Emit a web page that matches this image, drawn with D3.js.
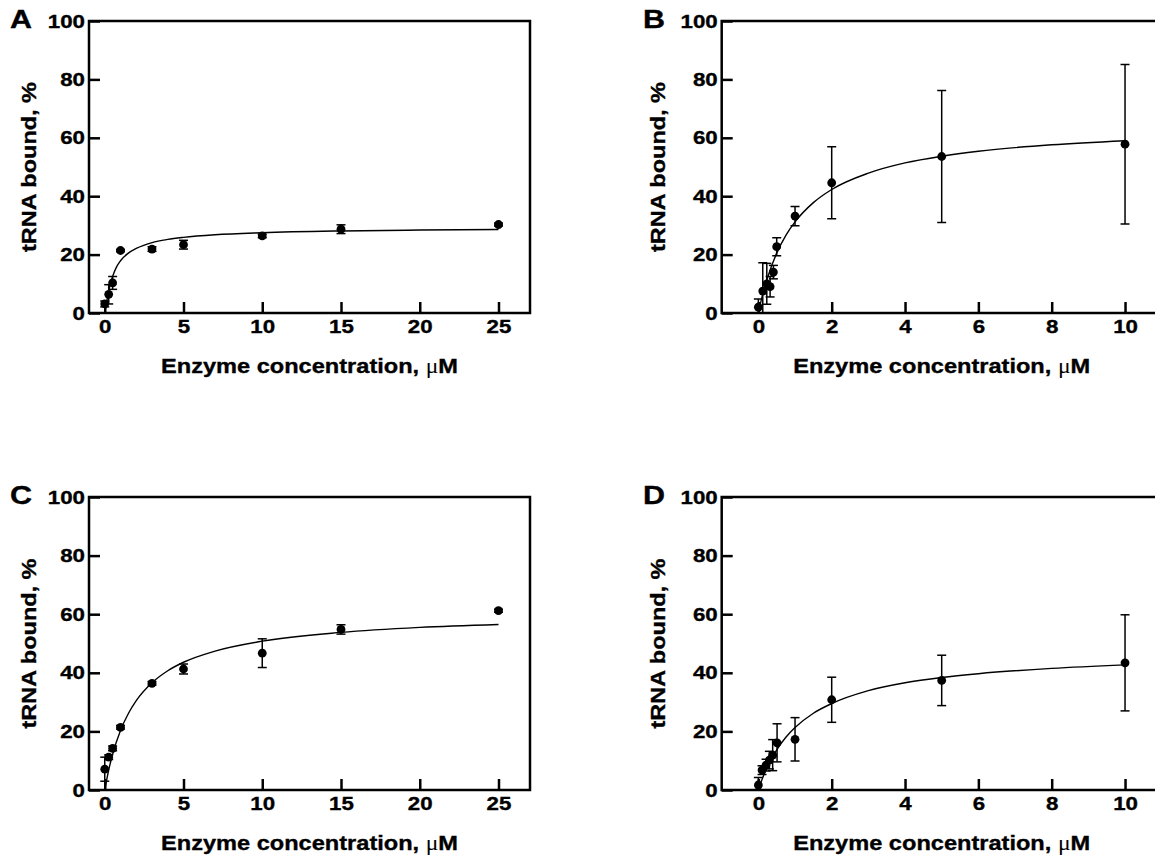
<!DOCTYPE html>
<html>
<head>
<meta charset="utf-8">
<script src="https://cdn.jsdelivr.net/npm/d3@7"></script>
<style>
  body { margin: 0; background: #fff; }
  svg { display: block; }
  text { font-family: "Liberation Sans", Arial, sans-serif; font-weight: bold; fill: #000; stroke: #000; stroke-width: 0.35px; }
</style>
</head>
<body>
<div id="chart"></div>
<script>
// panel A
const xA = [0, 0.25, 0.5, 1, 3, 5, 10, 15, 25];
const yA = [3.1, 6.4, 10.3, 21.4, 21.9, 23.4, 26.4, 28.7, 30.3];
const errA = [1.0, 3.3, 2.2, 0.4, 0.8, 1.5, 0.6, 1.5, 0.5];
const fitXA = [0, 0.25, 0.5, 0.75, 1, 1.5, 2, 3, 4, 5, 7, 10, 15, 20, 25];
const fitYA = [0, 7.5, 12.5, 15.8, 17.9, 20.5, 22.1, 24.1, 25.2, 25.9, 26.8, 27.5, 28.1, 28.4, 28.6];

// panel B
const xB = [0, 0.12, 0.23, 0.32, 0.41, 0.5, 1, 2, 5, 10];
const yB = [2, 7.5, 10, 9, 14, 22.7, 33.2, 44.6, 53.6, 57.8];
const errB = [2.8, 9.7, 7, 3.5, 2.3, 3.1, 3.3, 12.3, 22.6, 27.3];
const fitXB = [0, 0.1, 0.25, 0.5, 0.75, 1, 1.5, 2, 3, 4, 5, 6, 8, 10];
const fitYB = [0, 5.5, 12.1, 20.5, 26.6, 31.2, 37.8, 42.3, 47.9, 51.4, 53.7, 55.4, 57.6, 59.0];

// panel C
const xC = [0, 0.25, 0.5, 1, 3, 5, 10, 15, 25];
const yC = [7.1, 11.2, 14.2, 21.4, 36.4, 41.3, 46.7, 54.8, 61.2];
const errC = [4.1, 0.8, 0.8, 0.6, 0.6, 1.7, 4.9, 1.6, 0.5];
const fitXC = [0, 0.25, 0.5, 1, 1.5, 2, 3, 4, 5, 7, 10, 15, 20, 25];
const fitYC = [0, 6.8, 12.2, 20.3, 26.1, 30.5, 36.6, 40.7, 43.6, 47.4, 50.8, 53.8, 55.5, 56.5];

// panel D
const xD = [0, 0.1, 0.21, 0.3, 0.39, 0.51, 1, 2, 5, 10];
const yD = [1.7, 6.8, 8.5, 10.2, 11.9, 16.1, 17.3, 30.8, 37.4, 43.4];
const errD = [2.6, 1.5, 2, 3, 5.3, 6.5, 7.4, 7.7, 8.6, 16.4];
const fitXD = [0, 0.1, 0.25, 0.5, 0.75, 1, 1.5, 2, 3, 4, 5, 6, 8, 10];
const fitYD = [0, 3.6, 8, 13.7, 18, 21.3, 26.2, 29.5, 33.9, 36.6, 38.4, 39.7, 41.5, 42.7];

const yTicks = [0, 20, 40, 60, 80, 100];
const xTicksWide = [0, 5, 10, 15, 20, 25];
const xTicksNarrow = [0, 2, 4, 6, 8, 10];
const xTitle = 'Enzyme concentration, ';
const yTitle = 'tRNA bound, %';

const svg = d3.select('#chart')
  .append('svg')
  .attr('width', 1155)
  .attr('height', 858);

function drawPanel(p) {
  const x = d3.scaleLinear().domain(p.xDomain).range([p.left, p.right]);
  const y = d3.scaleLinear().domain([0, 100]).range([p.bottom, p.top]);
  const g = svg.append('g');

  const clipId = 'clip-' + p.label;
  svg.append('clipPath').attr('id', clipId)
    .append('rect')
    .attr('x', p.left).attr('y', p.top)
    .attr('width', p.right - p.left).attr('height', p.bottom - p.top);

  // ticks point into the plot, labels outside
  const xAxis = d3.axisBottom(x).tickValues(p.xTicks).tickSizeInner(-11).tickSizeOuter(0).tickPadding(7);
  const yAxis = d3.axisLeft(y).tickValues(yTicks).tickSizeInner(-11).tickSizeOuter(0).tickPadding(4);

  const gx = g.append('g').attr('transform', `translate(0, ${p.bottom})`).call(xAxis);
  const gy = g.append('g').attr('transform', `translate(${p.left}, 0)`).call(yAxis);
  [gx, gy].forEach(a => {
    a.select('.domain').remove();
    a.selectAll('line').attr('stroke', '#000').attr('stroke-width', 2.5);
    a.selectAll('text')
      .attr('font-size', 19)
      .attr('font-family', '"Liberation Sans", Arial, sans-serif')
      .attr('font-weight', 'bold')
      .attr('fill', '#000')
      .attr('textLength', function () { return this.textContent.length * 12.4; })
      .attr('lengthAdjust', 'spacingAndGlyphs');
  });

  g.append('rect')
    .attr('x', p.left).attr('y', p.top)
    .attr('width', p.right - p.left).attr('height', p.bottom - p.top)
    .attr('fill', 'none').attr('stroke', '#000').attr('stroke-width', 2.5);

  const plot = g.append('g').attr('clip-path', `url(#${clipId})`);

  const fit = p.fitX.map((v, i) => [v, p.fitY[i]]);
  plot.append('path')
    .datum(fit)
    .attr('fill', 'none')
    .attr('stroke', '#000')
    .attr('stroke-width', 1.4)
    .attr('d', d3.line().x(d => x(d[0])).y(d => y(d[1])).curve(d3.curveMonotoneX));

  const pts = p.xs.map((v, i) => ({ x: v, y: p.ys[i], e: p.errs[i] }));

  const bars = plot.selectAll('.bar').data(pts).enter().append('g').attr('class', 'bar');
  bars.append('line')
    .attr('x1', d => x(d.x)).attr('x2', d => x(d.x))
    .attr('y1', d => y(d.y - d.e)).attr('y2', d => y(d.y + d.e));
  bars.append('line')
    .attr('x1', d => x(d.x) - 4.5).attr('x2', d => x(d.x) + 4.5)
    .attr('y1', d => y(d.y + d.e)).attr('y2', d => y(d.y + d.e));
  bars.append('line')
    .attr('x1', d => x(d.x) - 4.5).attr('x2', d => x(d.x) + 4.5)
    .attr('y1', d => y(d.y - d.e)).attr('y2', d => y(d.y - d.e));
  bars.selectAll('line').attr('stroke', '#000').attr('stroke-width', 1.5);

  plot.selectAll('.dot').data(pts).enter().append('circle')
    .attr('class', 'dot')
    .attr('cx', d => x(d.x))
    .attr('cy', d => y(d.y))
    .attr('r', 4.4)
    .attr('fill', '#000');

  // axis titles
  const xt = g.append('text')
    .attr('x', (p.left + Math.min(p.right, 1161.7)) / 2)
    .attr('y', p.bottom + 60)
    .attr('text-anchor', 'middle')
    .attr('font-size', 21)
    .attr('textLength', 297)
    .attr('lengthAdjust', 'spacingAndGlyphs');
  xt.append('tspan').text(xTitle);
  xt.append('tspan').text('\u03bc')
    .attr('font-family', '"Liberation Serif", "DejaVu Serif", serif')
    .attr('font-weight', 'normal')
    .attr('stroke-width', 0);
  xt.append('tspan').text('M');

  g.append('text')
    .attr('transform', `translate(${p.yTitleX}, ${(p.top + p.bottom) / 2}) rotate(-90)`)
    .attr('text-anchor', 'middle')
    .attr('font-size', 21)
    .attr('textLength', 170)
    .attr('lengthAdjust', 'spacingAndGlyphs')
    .text(yTitle);

  g.append('text')
    .attr('x', p.labelX)
    .attr('y', p.top + 7)
    .attr('font-size', 25)
    .attr('textLength', 22)
    .attr('lengthAdjust', 'spacingAndGlyphs')
    .text(p.label);
}

drawPanel({ label: 'A', left: 89, right: 530, top: 21, bottom: 313, xDomain: [-1, 27], xTicks: xTicksWide,
  xs: xA, ys: yA, errs: errA, fitX: fitXA, fitY: fitYA, yTitleX: 36, labelX: 10 });
drawPanel({ label: 'B', left: 721.7, right: 1161.7, top: 21, bottom: 313, xDomain: [-1, 11], xTicks: xTicksNarrow,
  xs: xB, ys: yB, errs: errB, fitX: fitXB, fitY: fitYB, yTitleX: 665, labelX: 643 });
drawPanel({ label: 'C', left: 89, right: 530, top: 497, bottom: 790, xDomain: [-1, 27], xTicks: xTicksWide,
  xs: xC, ys: yC, errs: errC, fitX: fitXC, fitY: fitYC, yTitleX: 36, labelX: 10 });
drawPanel({ label: 'D', left: 721.7, right: 1161.7, top: 497, bottom: 790, xDomain: [-1, 11], xTicks: xTicksNarrow,
  xs: xD, ys: yD, errs: errD, fitX: fitXD, fitY: fitYD, yTitleX: 665, labelX: 643 });
</script>
</body>
</html>
